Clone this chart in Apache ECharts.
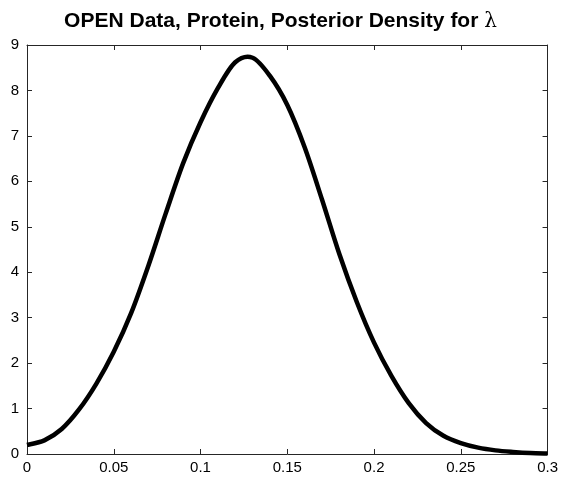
<!DOCTYPE html>
<html>
<head>
<meta charset="utf-8">
<script src="https://cdn.jsdelivr.net/npm/echarts@6/dist/echarts.min.js"></script>
<style>
  html, body { margin: 0; padding: 0; background: #fff; }
  #chart { width: 561px; height: 478px; }
</style>
</head>
<body>
<div id="chart"></div>
<script>
// Posterior density of lambda, sampled along the lambda axis
const lambdaValues = [0, 0.01, 0.02, 0.03, 0.04, 0.05, 0.06, 0.07, 0.08, 0.09,
  0.10, 0.11, 0.12, 0.13, 0.14, 0.15, 0.16, 0.17, 0.18, 0.19,
  0.20, 0.21, 0.22, 0.23, 0.24, 0.25, 0.26, 0.27, 0.28, 0.29, 0.30];
const densityValues = [0.2, 0.3, 0.55, 0.98, 1.55, 2.25, 3.1, 4.15, 5.3, 6.4,
  7.3, 8.05, 8.62, 8.72, 8.32, 7.68, 6.75, 5.6, 4.4, 3.35,
  2.45, 1.72, 1.12, 0.68, 0.4, 0.24, 0.14, 0.08, 0.045, 0.02, 0.01];
const xTicks = [0, 0.05, 0.1, 0.15, 0.2, 0.25, 0.3];
const yTicks = [0, 1, 2, 3, 4, 5, 6, 7, 8, 9];

const axisColor = '#262626';
const font = 'Liberation Sans, Arial, Helvetica, sans-serif';

const chart = echarts.init(document.getElementById('chart'), null, { renderer: 'canvas' });

const baseX = {
  type: 'value', min: 0, max: 0.3, interval: 0.05,
  axisLine: { show: true, onZero: false, lineStyle: { color: axisColor, width: 1 } },
  axisTick: { show: true, inside: true, length: 5, lineStyle: { color: axisColor } },
  splitLine: { show: false }
};
const baseY = {
  type: 'value', min: 0, max: 9, interval: 1,
  axisLine: { show: true, onZero: false, lineStyle: { color: axisColor, width: 1 } },
  axisTick: { show: true, inside: true, length: 5, lineStyle: { color: axisColor } },
  splitLine: { show: false }
};

// Density curve: sample points mapped through the axes, joined by a
// Catmull-Rom spline (converted to cubic Bezier segments).
function renderDensity(params, api) {
  const pts = lambdaValues.map((x, i) => api.coord([x, densityValues[i]]));
  const n = pts.length;
  let d = 'M' + pts[0][0] + ',' + pts[0][1];
  for (let i = 0; i < n - 1; i++) {
    const p0 = pts[Math.max(i - 1, 0)];
    const p1 = pts[i];
    const p2 = pts[i + 1];
    const p3 = pts[Math.min(i + 2, n - 1)];
    const c1x = p1[0] + (p2[0] - p0[0]) / 6;
    const c1y = p1[1] + (p2[1] - p0[1]) / 6;
    const c2x = p2[0] - (p3[0] - p1[0]) / 6;
    const c2y = p2[1] - (p3[1] - p1[1]) / 6;
    d += ' C' + c1x + ',' + c1y + ' ' + c2x + ',' + c2y + ' ' + p2[0] + ',' + p2[1];
  }
  return {
    type: 'path',
    shape: { pathData: d },
    style: { fill: 'none', stroke: '#000', lineWidth: 4.5, lineJoin: 'round', lineCap: 'butt' }
  };
}

chart.setOption({
  animation: false,
  backgroundColor: '#ffffff',
  title: {
    text: '{b|OPEN Data, Protein, Posterior Density for }{l|λ}',
    left: 'center',
    top: 6,
    textStyle: {
      rich: {
        b: { fontFamily: font, fontWeight: 'bold', fontSize: 21, color: '#000' },
        l: { fontFamily: 'DejaVu Serif, serif', fontWeight: 'normal', fontSize: 20, color: '#000' }
      }
    }
  },
  grid: { left: 27, right: 13, top: 45, bottom: 24, containLabel: false },
  xAxis: [
    Object.assign({}, baseX, {
      position: 'bottom',
      axisLabel: {
        show: true, margin: 6, color: '#000', fontFamily: font, fontSize: 15,
        formatter: v => {
          const t = xTicks.find(k => Math.abs(k - v) < 1e-9);
          return t === undefined ? '' : String(t);
        }
      }
    }),
    Object.assign({}, baseX, { position: 'top', axisLabel: { show: false } })
  ],
  yAxis: [
    Object.assign({}, baseY, {
      position: 'left',
      axisLabel: {
        show: true, margin: 8, color: '#000', fontFamily: font, fontSize: 15,
        formatter: v => {
          const t = yTicks.find(k => Math.abs(k - v) < 1e-9);
          return t === undefined ? '' : String(t);
        }
      }
    }),
    Object.assign({}, baseY, { position: 'right', axisLabel: { show: false } })
  ],
  series: [{
    type: 'custom',
    coordinateSystem: 'cartesian2d',
    xAxisIndex: 0,
    yAxisIndex: 0,
    data: [[lambdaValues[0], densityValues[0]]],
    renderItem: renderDensity,
    clip: false,
    silent: true
  }]
});
</script>
</body>
</html>
